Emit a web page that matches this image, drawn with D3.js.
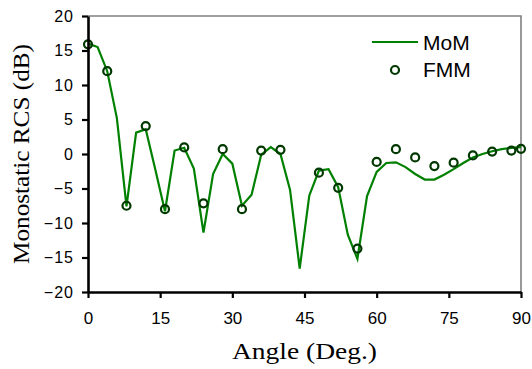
<!DOCTYPE html>
<html>
<head>
<meta charset="utf-8">
<script src="https://cdn.jsdelivr.net/npm/d3@7"></script>
<style>
  body { margin: 0; background: #fff; }
  .y.axis text { font-family: "Liberation Sans", Arial, sans-serif; font-size: 16px; letter-spacing: 1px; fill: #000; }
  .x.axis text { font-family: "Liberation Sans", Arial, sans-serif; font-size: 17px; fill: #000; }
  .title { font-family: "Liberation Serif", "Times New Roman", serif; font-size: 23.5px; fill: #000; }
  .legend text { font-family: "Liberation Sans", Arial, sans-serif; font-size: 21px; fill: #000; }
</style>
</head>
<body>
<div id="chart"></div>
<script>

// MoM curve, every 2 degrees
var momAngles = [0, 2, 4, 6, 8, 10, 12, 14, 16, 18, 20, 22, 24, 26, 28, 30, 32, 34, 36, 38, 40, 42, 44,
  46, 48, 50, 52, 54, 56, 58, 60, 62, 64, 66, 68, 70, 72, 74, 76, 78, 80, 82, 84, 86, 88, 90];
var momValues = [16, 15.5, 12, 5.2, -7.6, 3.1, 3.6, -2.3, -8.3, 0.5, 0.9, -2.1, -11.4, -2.9, 0, -1.4, -7.5, -5.9,
  -0.1, 1.0, 0, -5.2, -16.6, -6, -2.4, -2.2, -4.8, -11.7, -15.2, -6.1, -2.6, -1.3, -1.2, -1.9, -2.9, -3.7, -3.7,
  -3.0, -2.2, -1.3, -0.5, 0, 0.4, 0.7, 0.9, 1.0];

// FMM samples
var fmmAngles = [0, 4, 8, 12, 16, 20, 24, 28, 32, 36, 40, 48, 52, 56, 60, 64, 68, 72, 76, 80, 84, 88, 90];
var fmmValues = [15.9, 12, -7.5, 4.05, -8, 0.95, -7.15, 0.7, -8, 0.5, 0.6, -2.7, -4.9, -13.7, -1.15, 0.7,
  -0.5, -1.75, -1.25, -0.2, 0.35, 0.5, 0.75];

var xTicks = [0, 15, 30, 45, 60, 75, 90];
var yTicks = [-20, -15, -10, -5, 0, 5, 10, 15, 20];

var width = 532,
  height = 369,
  margin = {top: 16, right: 11, bottom: 77, left: 88};
var innerW = width - margin.left - margin.right,
  innerH = height - margin.top - margin.bottom;

var svg = d3.select('#chart')
  .append('svg')
  .attr('width', width)
  .attr('height', height);

var g = svg.append('g')
  .attr('transform', `translate(${margin.left},${margin.top})`);

var xScale = d3.scaleLinear().domain([0, 90]).range([0, innerW]);
var yScale = d3.scaleLinear().domain([-20, 20]).range([innerH, 0]);

// gray frame on top and right
g.append('path')
  .attr('d', `M0,0H${innerW}V${innerH}`)
  .attr('fill', 'none')
  .attr('stroke', '#808080')
  .attr('stroke-width', 1.6);

var mom = momAngles.map((a, i) => ({a: a, v: momValues[i]}));
var fmm = fmmAngles.map((a, i) => ({a: a, v: fmmValues[i]}));

var line = d3.line()
  .x(d => xScale(d.a))
  .y(d => yScale(d.v));

g.append('path')
  .datum(mom)
  .attr('fill', 'none')
  .attr('stroke', '#008000')
  .attr('stroke-width', 2.2)
  .attr('stroke-linejoin', 'miter')
  .attr('d', line);

g.selectAll('.fmm')
  .data(fmm)
  .enter().append('circle')
  .attr('class', 'fmm')
  .attr('cx', d => xScale(d.a))
  .attr('cy', d => yScale(d.v))
  .attr('r', 4)
  .attr('fill', 'none')
  .attr('stroke', '#003800')
  .attr('stroke-width', 2.2);

// axes
var yAxis = d3.axisLeft(yScale).tickValues(yTicks).tickSize(6).tickPadding(8).tickSizeOuter(0);
var xAxis = d3.axisBottom(xScale).tickValues(xTicks).tickSize(6).tickPadding(14).tickSizeOuter(0);

var yG = g.append('g').attr('class', 'y axis').call(yAxis);
var xG = g.append('g').attr('class', 'x axis')
  .attr('transform', `translate(0,${innerH})`)
  .call(xAxis);

[yG, xG].forEach(ax => {
  ax.select('.domain').attr('stroke', '#000').attr('stroke-width', 2.6);
  ax.selectAll('.tick line').attr('stroke', '#000').attr('stroke-width', 2.2);
});

// axis titles
svg.append('text')
  .attr('class', 'title')
  .attr('text-anchor', 'middle')
  .attr('x', margin.left + innerW / 2)
  .attr('y', 359)
  .attr('textLength', 145)
  .attr('lengthAdjust', 'spacingAndGlyphs')
  .text('Angle (Deg.)');

svg.append('text')
  .attr('class', 'title')
  .attr('text-anchor', 'middle')
  .attr('transform', `translate(29,${margin.top + innerH / 2}) rotate(-90)`)
  .attr('textLength', 220)
  .attr('lengthAdjust', 'spacingAndGlyphs')
  .text('Monostatic RCS (dB)');

// legend
var legend = svg.append('g').attr('class', 'legend');
legend.append('line')
  .attr('x1', 372).attr('x2', 418)
  .attr('y1', 42).attr('y2', 42)
  .attr('stroke', '#008000')
  .attr('stroke-width', 2.2);
legend.append('text').attr('x', 423).attr('y', 50).text('MoM');
legend.append('circle')
  .attr('cx', 395).attr('cy', 70).attr('r', 4)
  .attr('fill', 'none')
  .attr('stroke', '#003800')
  .attr('stroke-width', 2.2);
legend.append('text').attr('x', 423).attr('y', 77).text('FMM');

</script>
</body>
</html>
